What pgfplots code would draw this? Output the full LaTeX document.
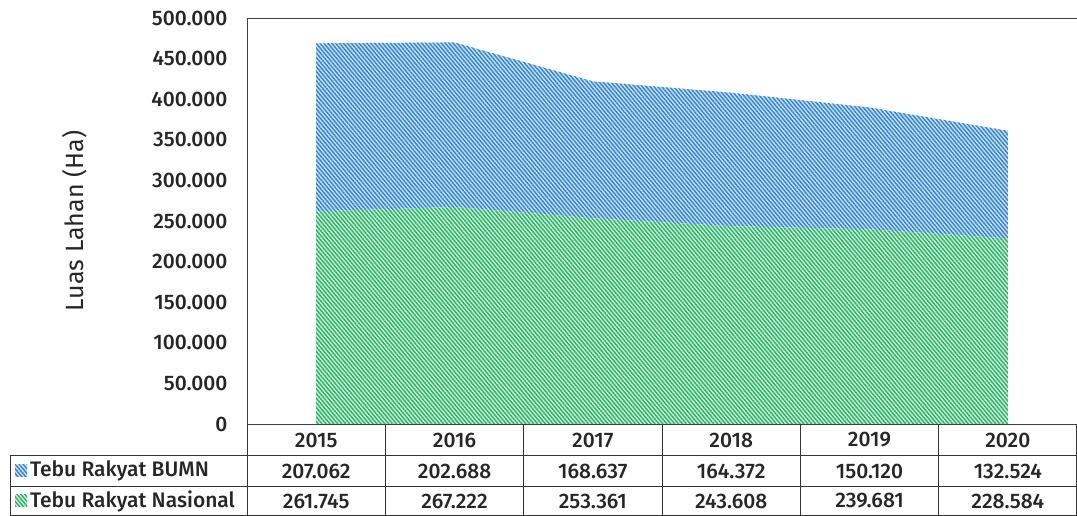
\documentclass[border=0pt]{standalone}
\usepackage{fontspec}
\setmainfont{Fira Sans}[UprightFont=* Medium, BoldFont=* SemiBold]
\newfontfamily\regfont{Fira Sans}
\usepackage{pgfplots}
\pgfplotsset{compat=1.18}
\usetikzlibrary{patterns.meta}
\definecolor{blueline}{RGB}{50,130,205}
\definecolor{bluebg}{RGB}{200,225,245}
\definecolor{greenline}{RGB}{45,175,105}
\definecolor{greenbg}{RGB}{200,240,215}
\begin{document}
\begin{tikzpicture}[x=1pt,y=1pt]
\path[use as bounding box] (0,0) rectangle (1077,516);
\begin{axis}[
  at={(247pt,92pt)}, anchor=south west,
  width=830pt, height=406pt, scale only axis,
  xmin=-0.5, xmax=5.5, ymin=0, ymax=500000,
  stack plots=y,
  scaled y ticks=false,
  xtick=\empty,
  ytick={0,50000,100000,150000,200000,250000,300000,350000,400000,450000,500000},
  yticklabels={0,50.000,100.000,150.000,200.000,250.000,300.000,350.000,400.000,450.000,500.000},
  major tick length=0pt,
  axis line style={black!75, line width=0.8pt},
  yticklabel style={font=\fontsize{21}{24}\selectfont, text=black!85, xshift=-16pt},
  ylabel={Luas Lahan (Ha)},
  every axis y label/.style={at={(axis description cs:0,0.5)}, xshift=-172pt, rotate=90, anchor=center, font=\regfont\fontsize{25}{30}\selectfont, text=black!85},
  clip=false,
]
\addplot[draw=none, fill=greenbg, postaction={pattern={Lines[angle=-50,distance=3pt,line width=1.4pt]}, pattern color=greenline}]
  coordinates {(0,261745) (1,267222) (2,253361) (3,243608) (4,239681) (5,228584)} \closedcycle;
\addplot[draw=none, fill=bluebg, postaction={pattern={Lines[angle=-50,distance=3pt,line width=1.4pt]}, pattern color=blueline}]
  coordinates {(0,207062) (1,202688) (2,168637) (3,164372) (4,150120) (5,132524)} \closedcycle;
\end{axis}
% data table
\begin{scope}[black!80, line width=0.8pt]
\draw (10,61) -- (1077,61);
\draw (10,30) -- (1077,30);
\draw (10,0.4) -- (1077,0.4);
\draw (10,0) -- (10,61);
\foreach \k in {0,...,5} \draw (247+138.333*\k,0) -- (247+138.333*\k,92);
\draw (1076.6,0) -- (1076.6,92);
\end{scope}
\begin{scope}[every node/.style={font=\fontsize{21}{24}\selectfont, text=black!85, anchor=center}]
\foreach \yr [count=\i from 0] in {2015,2016,2017,2018,2019,2020}
  \node at (247+138.333*\i+69.17,76) {\yr};
\foreach \v [count=\i from 0] in {207.062,202.688,168.637,164.372,150.120,132.524}
  \node at (247+138.333*\i+69.17,45) {\v};
\foreach \v [count=\i from 0] in {261.745,267.222,253.361,243.608,239.681,228.584}
  \node at (247+138.333*\i+69.17,15) {\v};
\node[anchor=west, inner sep=0pt] at (30,45) {Tebu Rakyat BUMN};
\node[anchor=west, inner sep=0pt] at (30,15) {Tebu Rakyat Nasional};
\end{scope}
\path[fill=bluebg, postaction={pattern={Lines[angle=-50,distance=3pt,line width=1.4pt]}, pattern color=blueline}] (15,39) rectangle (27,51);
\path[fill=greenbg, postaction={pattern={Lines[angle=-50,distance=3pt,line width=1.4pt]}, pattern color=greenline}] (15,9) rectangle (27,21);
\end{tikzpicture}
\end{document}
